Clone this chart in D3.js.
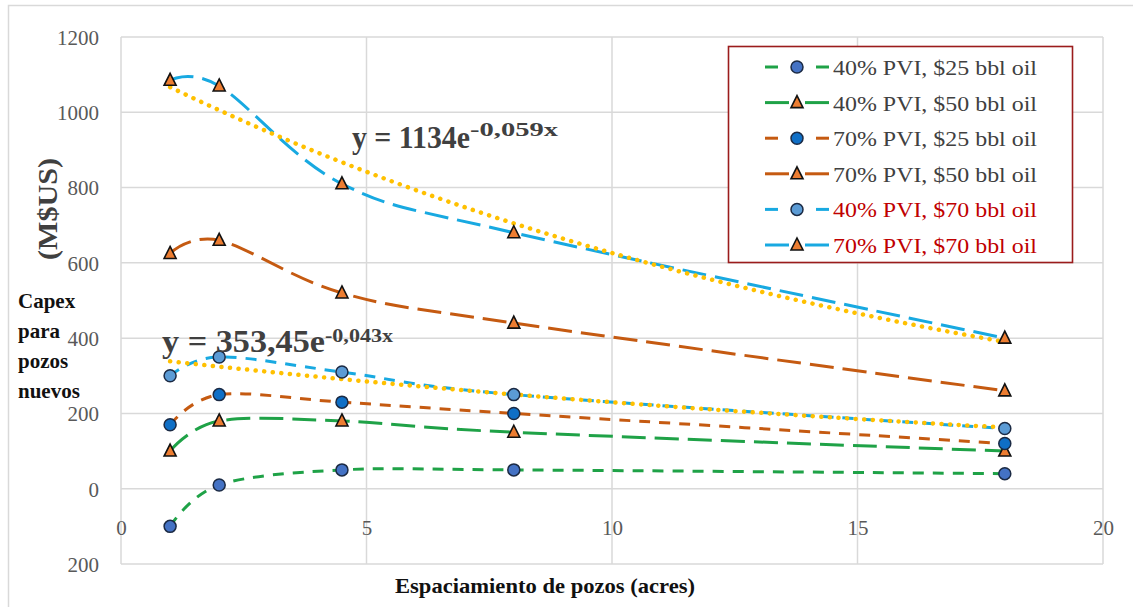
<!DOCTYPE html>
<html><head><meta charset="utf-8">
<script src="https://cdn.jsdelivr.net/npm/d3@7"></script>
<style>body{margin:0;background:#fff}svg{display:block}</style>
</head><body><svg id="c" width="1133" height="607"></svg>
<script>
// ---- data ----
const xValues = [1, 2, 4.5, 8, 18];
const seriesNames = [
  "40% PVI, $25 bbl oil",
  "40% PVI, $50 bbl oil",
  "70% PVI, $25 bbl oil",
  "70% PVI, $50 bbl oil",
  "40% PVI, $70 bbl oil",
  "70% PVI, $70 bbl oil"
];
const s40_25 = [-100, 10, 50, 50, 40];
const s40_50 = [100, 180, 180, 150, 100];
const s70_25 = [170, 250, 230, 200, 120];
const s70_50 = [625, 660, 520, 440, 260];
const s40_70 = [300, 350, 310, 250, 160];
const s70_70 = [1085, 1070, 810, 680, 400];
const xTicks = [0, 5, 10, 15, 20];
const yTicks = [-200, 0, 200, 400, 600, 800, 1000, 1200];
const yTickLabels = ["200", "0", "200", "400", "600", "800", "1000", "1200"];
const eqHigh = ["y = 1134e", "-0,059x"];
const eqLow = ["y = 353,45e", "-0,043x"];
const yTitle = "(M$US)";
const yTitle2 = ["Capex", "para", "pozos", "nuevos"];
const xTitle = "Espaciamiento de pozos (acres)";

// ---- styles ----
const GREEN = "#1FA247", ORANGE = "#C55A11", BLUE = "#18A9E1", GOLD = "#FFC000";
const styles = [
  {color: GREEN, dash: "11,9", marker: "circle", fill: "#4472C4", legendColor: "#404040", shortDash: true},
  {color: GREEN, dash: "24,9", marker: "tri", fill: "#ED7D31", legendColor: "#404040", shortDash: false},
  {color: ORANGE, dash: "11,9", marker: "circle", fill: "#0F6FC6", legendColor: "#404040", shortDash: true},
  {color: ORANGE, dash: "24,9", marker: "tri", fill: "#ED7D31", legendColor: "#404040", shortDash: false},
  {color: BLUE, dash: "11,9", marker: "circle", fill: "#5B9BD5", legendColor: "#C00000", shortDash: true},
  {color: BLUE, dash: "24,9", marker: "tri", fill: "#ED7D31", legendColor: "#C00000", shortDash: false}
];
const allSeries = [s40_25, s40_50, s70_25, s70_50, s40_70, s70_70];

const svg = d3.select("#c");
svg.append("rect").attr("width", 1133).attr("height", 607).attr("fill", "#fff");
// outer frame
svg.append("rect").attr("x", 8.5).attr("y", 5.5).attr("width", 1140).attr("height", 620)
  .attr("fill", "none").attr("stroke", "#D9D9D9").attr("stroke-width", 1.5);

const L = 121, R = 1103, T = 37, B = 564;
const x = d3.scaleLinear().domain([0, 20]).range([L, R]);
const y = d3.scaleLinear().domain([-200, 1200]).range([B, T]);
const SERIF = "'Liberation Serif','DejaVu Serif',serif";

// grid
const g = svg.append("g");
g.selectAll(".hg").data(yTicks).join("line")
  .attr("x1", L).attr("x2", R).attr("y1", d => y(d)).attr("y2", d => y(d))
  .attr("stroke", "#D9D9D9").attr("stroke-width", 1.5);
g.selectAll(".vg").data(xTicks).join("line")
  .attr("y1", T).attr("y2", B).attr("x1", d => x(d)).attr("x2", d => x(d))
  .attr("stroke", "#D9D9D9").attr("stroke-width", 1.5);

// y tick labels via axis
const yAxis = d3.axisLeft(y).tickValues(yTicks).tickSize(0).tickPadding(0)
  .tickFormat((d, i) => yTickLabels[i]);
const ya = svg.append("g").attr("transform", `translate(${L - 22},0)`).call(yAxis);
ya.select(".domain").remove();
ya.selectAll("text").attr("font-family", SERIF).attr("font-size", 21).attr("fill", "#595959")
  .attr("dy", "0.35em");

// x tick labels, at the y=0 crossing
const xAxis = d3.axisBottom(x).tickValues(xTicks).tickSize(0).tickPadding(0);
const xa = svg.append("g").attr("transform", `translate(0,${y(0) + 39})`).call(xAxis);
xa.select(".domain").remove();
xa.selectAll("text").attr("font-family", SERIF).attr("font-size", 21).attr("fill", "#595959")
  .attr("dy", "0.35em");

// series lines
const line = d3.line().x(d => x(d[0])).y(d => y(d[1])).curve(d3.curveCardinal.tension(0));
allSeries.forEach((s, i) => {
  const pts = xValues.map((xv, j) => [xv, s[j]]);
  svg.append("path").attr("d", line(pts)).attr("fill", "none")
    .attr("stroke", styles[i].color).attr("stroke-width", 3)
    .attr("stroke-dasharray", styles[i].dash);
});

// exponential trendlines (least squares on ln y)
function expFit(xs, ys) {
  const ly = ys.map(Math.log);
  const mx = d3.mean(xs), my = d3.mean(ly);
  let sxy = 0, sxx = 0;
  xs.forEach((xv, i) => { sxy += (xv - mx) * (ly[i] - my); sxx += (xv - mx) ** 2; });
  const b = sxy / sxx;
  return {a: Math.exp(my - b * mx), b};
}
[s70_70, s40_70].forEach(s => {
  const f = expFit(xValues, s);
  const xs = d3.range(1, 18.001, 0.25);
  svg.append("path")
    .attr("d", d3.line().x(d => x(d)).y(d => y(f.a * Math.exp(f.b * d)))(xs))
    .attr("fill", "none").attr("stroke", GOLD).attr("stroke-width", 4.5)
    .attr("stroke-linecap", "round").attr("stroke-dasharray", "0.1,8.5");
});

// markers
function drawMarker(sel, type, cx, cy, fill) {
  if (type === "circle") {
    sel.append("circle").attr("cx", cx).attr("cy", cy).attr("r", 6)
      .attr("fill", fill).attr("stroke", "#1B2A44").attr("stroke-width", 1.5);
  } else {
    sel.append("path").attr("d", `M${cx},${cy - 7}L${cx + 6},${cy + 5}L${cx - 6},${cy + 5}Z`)
      .attr("fill", fill).attr("stroke", "#111").attr("stroke-width", 1.6)
      .attr("stroke-linejoin", "miter");
  }
}
const mg = svg.append("g");
allSeries.forEach((s, i) => {
  xValues.forEach((xv, j) => drawMarker(mg, styles[i].marker, x(xv), y(s[j]), styles[i].fill));
});

// equations
function eq(parts, x0, base, w1, w2, supBase) {
  const t = svg.append("text").attr("font-family", SERIF).attr("font-weight", "bold").attr("fill", "#404040");
  t.append("tspan").attr("x", x0).attr("y", base).attr("font-size", 31)
    .attr("textLength", w1).attr("lengthAdjust", "spacingAndGlyphs").text(parts[0]);
  t.append("tspan").attr("x", x0 + w1).attr("y", supBase).attr("font-size", 19)
    .attr("textLength", w2).attr("lengthAdjust", "spacingAndGlyphs").text(parts[1]);
}
eq(eqHigh, 352, 148, 118, 88, 136);
eq(eqLow, 162, 352, 163, 68, 342);

// axis titles
svg.append("text").attr("transform", "translate(57,209) rotate(-90)")
  .attr("text-anchor", "middle").attr("font-family", SERIF).attr("font-weight", "bold")
  .attr("font-size", 27).attr("fill", "#404040")
  .attr("textLength", 102).attr("lengthAdjust", "spacingAndGlyphs").text(yTitle);
yTitle2.forEach((w, i) => {
  svg.append("text").attr("x", 18).attr("y", 308 + i * 30)
    .attr("font-family", SERIF).attr("font-weight", "bold").attr("font-size", 21)
    .attr("fill", "#111").text(w);
});
svg.append("text").attr("x", 545).attr("y", 593).attr("text-anchor", "middle")
  .attr("font-family", SERIF).attr("font-weight", "bold").attr("font-size", 21).attr("fill", "#111")
  .attr("textLength", 300).attr("lengthAdjust", "spacingAndGlyphs").text(xTitle);

// legend
const lg = svg.append("g");
lg.append("rect").attr("x", 728.5).attr("y", 46.5).attr("width", 344).attr("height", 216)
  .attr("fill", "#fff").attr("stroke", "#9B1C1C").attr("stroke-width", 1.6);
seriesNames.forEach((name, i) => {
  const cy = 67 + i * 35.6;
  const st = styles[i];
  const segs = st.shortDash ? [[765, 778], [816, 829]] : [[765, 789], [805, 829]];
  segs.forEach(sg => lg.append("line").attr("x1", sg[0]).attr("x2", sg[1]).attr("y1", cy).attr("y2", cy)
    .attr("stroke", st.color).attr("stroke-width", 3));
  drawMarker(lg, st.marker, 797, cy, st.fill);
  lg.append("text").attr("x", 833).attr("y", cy + 8).attr("font-family", SERIF)
    .attr("font-size", 22).attr("fill", st.legendColor)
    .attr("textLength", 204).attr("lengthAdjust", "spacingAndGlyphs").text(name);
});
</script></body></html>
